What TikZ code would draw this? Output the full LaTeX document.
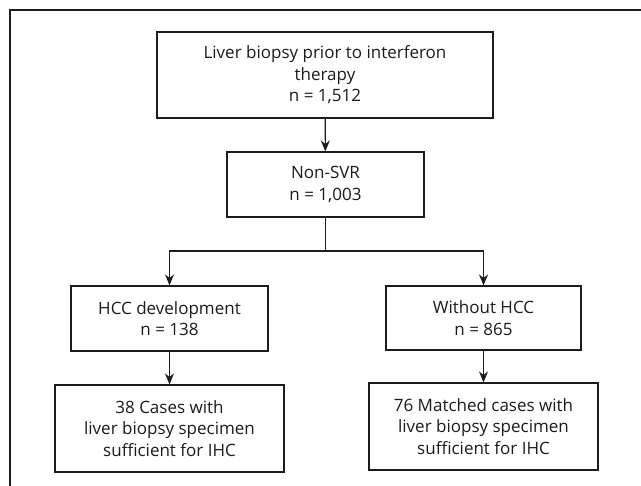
\documentclass[tikz,border=0pt]{standalone}
\usepackage{fontspec}
\setmainfont{Open Sans}
\usetikzlibrary{arrows.meta}
\definecolor{ink}{HTML}{1C1C1C}
\tikzset{
  box/.style={draw=ink, line width=1.2pt, align=center, text=ink, inner sep=2pt,
    font=\fontsize{17}{21.5}\selectfont},
  arr/.style={draw=ink, line width=1.1pt, -{Stealth[length=11pt,width=9pt]}},
  con/.style={draw=ink, line width=1.1pt},
  frame/.style={draw=ink, line width=1.2pt}
}
\begin{document}
\begin{tikzpicture}[x=1pt,y=-1pt]
\useasboundingbox (0,0) rectangle (641,486);
\fill[white] (0,0) rectangle (641,486);
\coordinate (fa) at (10,486);
\coordinate (fb) at (10,10);
\coordinate (fc) at (641,10);
\draw[frame] (fa) -- (fb) -- (fc);
\node[box, minimum width=336pt, minimum height=86pt] (top) at (325,75)
  {Liver biopsy prior to interferon\\therapy\\n = 1,512};
\node[box, minimum width=197pt, minimum height=65pt] (nsvr) at (325.5,184.5)
  {Non-SVR\\n = 1,003};
\node[box, minimum width=197pt, minimum height=65pt] (hcc) at (169.5,318.5)
  {HCC development\\n = 138};
\node[box, minimum width=195pt, minimum height=64pt] (wo) at (483.5,318)
  {Without HCC\\n = 865};
\node[box, minimum width=229pt, minimum height=87pt] (bl) at (169.5,428.5)
  {38 Cases with\\liver biopsy specimen\\sufficient for IHC};
\node[box, minimum width=229pt, minimum height=87pt] (br) at (483.5,426.5)
  {76 Matched cases with\\liver biopsy specimen\\sufficient for IHC};
\coordinate (j) at (325.5,251);
\draw[arr] (top) -- (nsvr);
\draw[con] (nsvr.south) -- (j);
\draw[arr] (j) -| (hcc.north);
\draw[arr] (j) -| (wo.north);
\draw[arr] (hcc) -- (bl);
\draw[arr] (wo) -- (br);
\end{tikzpicture}
\end{document}
